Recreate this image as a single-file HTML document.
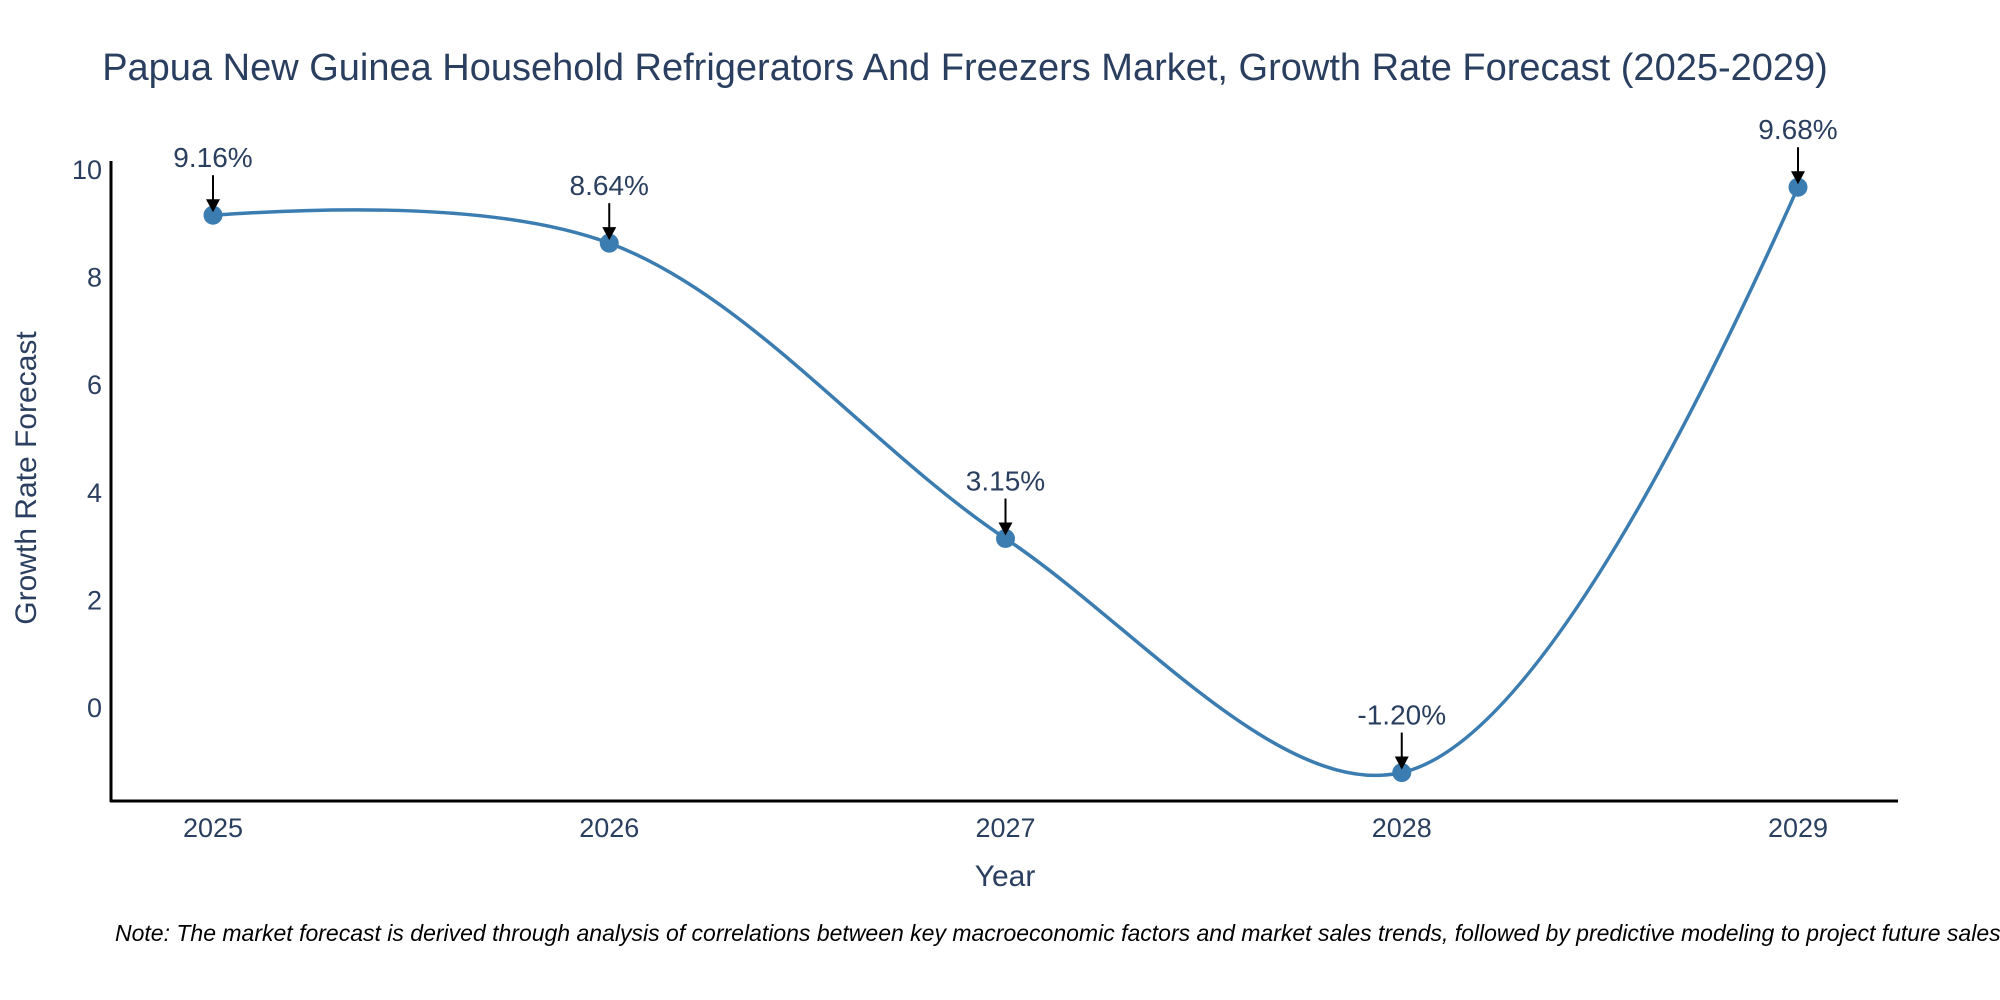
<!DOCTYPE html>
<html><head><meta charset="utf-8"><style>
html,body{margin:0;padding:0;background:#fff;}
svg{display:block;font-family:"Liberation Sans",sans-serif;}
</style></head><body>
<svg id="chart" width="2000" height="1000" viewBox="0 0 2000 1000">
<text x="965" y="80" text-anchor="middle" font-size="38" fill="#2a3f5f">Papua New Guinea Household Refrigerators And Freezers Market, Growth Rate Forecast (2025-2029)</text>
<g id="yticks"></g>
<g id="xticks"></g>
<line x1="111" y1="161" x2="111" y2="802" stroke="#000" stroke-width="3"/>
<line x1="110" y1="801" x2="1898" y2="801" stroke="#000" stroke-width="3"/>
<path id="line" fill="none" stroke="#3b7db1" stroke-width="3.5"/>
<g id="marks"></g>
<text transform="translate(36,478) rotate(-90)" text-anchor="middle" font-size="30" fill="#2a3f5f">Growth Rate Forecast</text>
<text x="1005" y="886" text-anchor="middle" font-size="30" fill="#2a3f5f">Year</text>
<text x="115" y="941" font-size="23" font-style="italic" fill="#000">Note: The market forecast is derived through analysis of correlations between key macroeconomic factors and market sales trends, followed by predictive modeling to project future sales</text>
</svg>
<script>
const years = ["2025","2026","2027","2028","2029"];
const values = [9.16, 8.64, 3.15, -1.20, 9.68];
const labels = ["9.16%","8.64%","3.15%","-1.20%","9.68%"];
const yTicks = [0,2,4,6,8,10];

const NS="http://www.w3.org/2000/svg";
function xs(i){return 213+i*396.25;}
function ys(v){return 708-v*53.8;}
function mk(tag,attrs,parent){const e=document.createElementNS(NS,tag);for(const k in attrs)e.setAttribute(k,attrs[k]);parent.appendChild(e);return e;}

const yt=document.getElementById('yticks');
yTicks.forEach(v=>{
  const t=mk('text',{x:102,y:ys(v)+9,'text-anchor':'end','font-size':27,fill:'#2a3f5f'},yt);
  
  
  t.textContent=v;
});
const xt=document.getElementById('xticks');
years.forEach((y,i)=>{
  const t=mk('text',{x:xs(i),y:837,'text-anchor':'middle','font-size':27,fill:'#2a3f5f'},xt);
  
  
  t.textContent=y;
});

const pts=values.map((v,i)=>[xs(i),ys(v)]);
function tangent(p0,p1,p2,s){
  const d1x=p0[0]-p1[0],d1y=p0[1]-p1[1],d2x=p2[0]-p1[0],d2y=p2[1]-p1[1];
  const d1a=Math.pow(d1x*d1x+d1y*d1y,0.25),d2a=Math.pow(d2x*d2x+d2y*d2y,0.25);
  const nx=(d2a*d2a*d1x-d1a*d1a*d2x)*s,ny=(d2a*d2a*d1y-d1a*d1a*d2y)*s;
  const den1=3*d2a*(d1a+d2a),den2=3*d1a*(d1a+d2a);
  return [[p1[0]+nx/den1,p1[1]+ny/den1],[p1[0]-nx/den2,p1[1]-ny/den2]];
}
const tg=[];
for(let i=1;i<pts.length-1;i++)tg.push(tangent(pts[i-1],pts[i],pts[i+1],1));
let d='M'+pts[0]+'Q'+tg[0][0]+' '+pts[1];
for(let i=2;i<pts.length-1;i++)d+='C'+tg[i-2][1]+' '+tg[i-1][0]+' '+pts[i];
d+='Q'+tg[pts.length-3][1]+' '+pts[pts.length-1];
document.getElementById('line').setAttribute('d',d);

const mg=document.getElementById('marks');
pts.forEach((p,i)=>{
  const c=mk('circle',{cx:p[0],cy:p[1],r:9.5,fill:'#3b7db1'},mg);
  
  
  const l=mk('line',{x1:p[0],y1:p[1]-40,x2:p[0],y2:p[1]-14,stroke:'#000','stroke-width':2},mg);
  
  
  const h=mk('polygon',{points:`${p[0]-7},${p[1]-16} ${p[0]+7},${p[1]-16} ${p[0]},${p[1]-3}`,fill:'#000'},mg);
  
  
  const t=mk('text',{x:p[0],y:p[1]-48,'text-anchor':'middle','font-size':28,fill:'#2a3f5f'},mg);
  
  
  t.textContent=labels[i];
});
</script>
</body></html>
